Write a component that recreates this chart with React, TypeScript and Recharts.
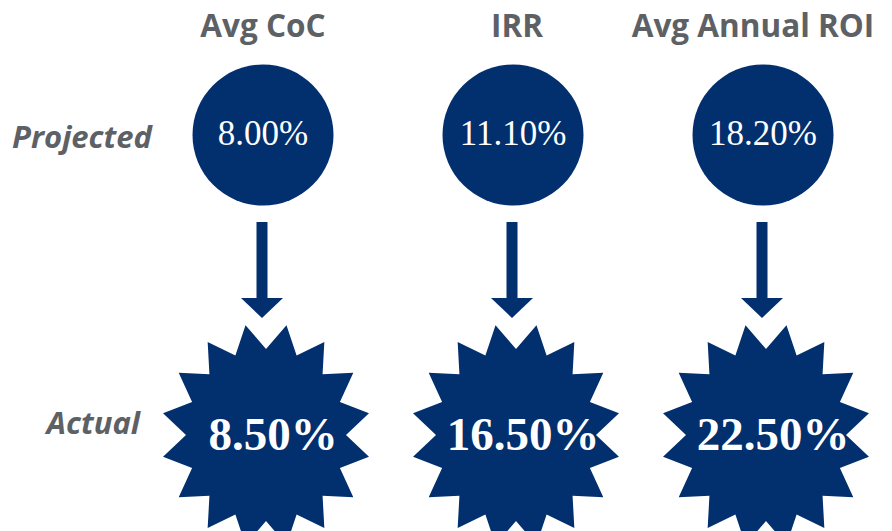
import { ScatterChart, Scatter, XAxis, YAxis } from "recharts";

const metrics = ["Avg CoC", "IRR", "Avg Annual ROI"];
const stages = ["Projected", "Actual"];
const projectedValues = [8.0, 11.1, 18.2];
const actualValues = [8.5, 16.5, 22.5];

const NAVY = "#022f6e";
const GRAY = "#5d6165";

const projectedData = metrics.map((metric, i) => ({
  metric,
  stage: stages[0],
  value: projectedValues[i],
}));
const actualData = metrics.map((metric, i) => ({
  metric,
  stage: stages[1],
  value: actualValues[i],
}));

const pct = (v: number) => `${v.toFixed(2)}%`;

// 16 point burst, inner vertex straight up, a little taller than wide
function starPath(
  cx: number,
  cy: number,
  points: number,
  outer: [number, number],
  inner: [number, number]
) {
  const step = Math.PI / points;
  let d = "";
  for (let i = 0; i < points * 2; i++) {
    const [rx, ry] = i % 2 === 0 ? inner : outer;
    const a = i * step;
    const x = cx + rx * Math.sin(a);
    const y = cy - ry * Math.cos(a);
    d += `${i === 0 ? "M" : "L"}${x.toFixed(2)},${y.toFixed(2)}`;
  }
  return d + "Z";
}

function ProjectedMark(props: any) {
  const { cx, cy, payload } = props;
  return (
    <g>
      <circle cx={cx} cy={cy} r={70.5} fill={NAVY} />
      <text
        x={cx}
        y={cy + 10}
        textAnchor="middle"
        fill="#ffffff"
        fontFamily="'Liberation Serif', serif"
        fontSize={35}
      >
        {pct(payload.value)}
      </text>
      <rect x={cx - 6.5} y={cy + 87} width={11} height={77} fill={NAVY} />
      <path
        d={`M${cx - 22},${cy + 163}L${cx + 20},${cy + 163}L${cx - 1},${cy + 183}Z`}
        fill={NAVY}
      />
    </g>
  );
}

function ActualMark(props: any) {
  const { cx, cy, payload } = props;
  return (
    <g>
      <path d={starPath(cx + 3, cy, 16, [105, 112], [80, 86])} fill={NAVY} />
      <text
        x={cx + 10}
        y={cy + 15}
        textAnchor="middle"
        fill="#ffffff"
        fontFamily="'Liberation Serif', serif"
        fontWeight={700}
        fontSize={47}
      >
        {pct(payload.value)}
      </text>
    </g>
  );
}

const metricNudge: Record<string, number> = {
  "Avg CoC": 0,
  IRR: 4,
  "Avg Annual ROI": -10,
};

function MetricTick(props: any) {
  const { x, y, payload } = props;
  return (
    <text
      x={x + (metricNudge[payload.value] ?? 0)}
      y={y}
      textAnchor="middle"
      fill={GRAY}
      fontFamily="'Open Sans', sans-serif"
      fontWeight={700}
      fontSize={31.5}
    >
      {payload.value}
    </text>
  );
}

const stageNudge: Record<string, { dx: number; dy: number }> = {
  Projected: { dx: 14, dy: 13 },
  Actual: { dx: 2, dy: -1 },
};

function StageTick(props: any) {
  const { x, y, payload } = props;
  const n = stageNudge[payload.value] ?? { dx: 0, dy: 0 };
  return (
    <text
      x={x + n.dx}
      y={y + n.dy}
      textAnchor="end"
      fill={GRAY}
      fontFamily="'Open Sans', sans-serif"
      fontWeight={700}
      fontStyle="italic"
      fontSize={31}
    >
      {payload.value}
    </text>
  );
}

export default function App() {
  return (
    <div style={{ position: "absolute", left: 0, top: 0, width: 892, height: 531, background: "#fff" }}>
      <ScatterChart width={892} height={531} margin={{ top: 0, right: 4, bottom: 96, left: 0 }}>
        <XAxis
          dataKey="metric"
          type="category"
          allowDuplicatedCategory={false}
          orientation="top"
          height={135}
          axisLine={false}
          tickLine={false}
          tickSize={0}
          tickMargin={98}
          interval={0}
          tick={<MetricTick />}
        />
        <YAxis
          dataKey="stage"
          type="category"
          allowDuplicatedCategory={false}
          scale="point"
          reversed
          width={138}
          axisLine={false}
          tickLine={false}
          tickSize={0}
          tickMargin={0}
          interval={0}
          tick={<StageTick />}
        />
        <Scatter data={projectedData} shape={<ProjectedMark />} isAnimationActive={false} />
        <Scatter data={actualData} shape={<ActualMark />} isAnimationActive={false} />
      </ScatterChart>
    </div>
  );
}
